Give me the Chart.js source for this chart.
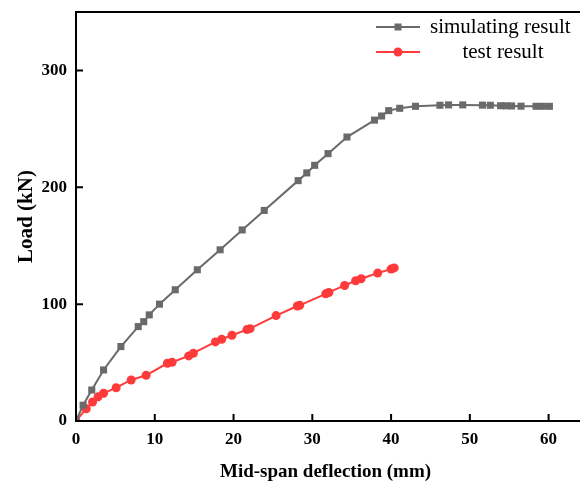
<!DOCTYPE html>
<html>
<head>
<meta charset="utf-8">
<script src="https://cdn.jsdelivr.net/npm/chart.js@4"></script>
<style>
  html, body { margin: 0; padding: 0; background: #fff; overflow: hidden; }
  #wrap { width: 580px; height: 483px; }
  canvas { display: block; }
</style>
</head>
<body>
<div id="wrap"><canvas id="chart" width="580" height="483"></canvas></div>
<script>
// simulating result (grey squares)
const simX = [0, 0.9, 2.0, 3.5, 5.7, 7.9, 8.6, 9.3, 10.6, 12.6, 15.4, 18.3, 21.1, 23.9, 28.2, 29.3, 30.3, 32.0, 34.4, 37.9, 38.8, 39.7, 41.1, 43.1, 46.2, 47.3, 49.1, 51.6, 52.6, 53.9, 54.6, 55.3, 56.5, 58.4, 59.2, 60.1];
const simY = [0, 13.5, 26.5, 43.7, 63.7, 80.8, 85, 90.8, 100, 112.3, 129.4, 146.5, 163.5, 180.2, 205.7, 212.3, 218.8, 228.8, 243, 257.5, 261, 265.6, 267.6, 269.3, 270.2, 270.5, 270.5, 270.3, 270.2, 269.8, 269.7, 269.6, 269.4, 269.3, 269.3, 269.3];

// test result (red circles)
const testX = [0, 1.3, 2.1, 2.8, 3.5, 5.1, 7.0, 8.9, 11.6, 12.2, 14.3, 14.9, 17.7, 18.5, 19.8, 21.7, 22.1, 25.4, 28.1, 28.4, 31.7, 32.1, 34.1, 35.5, 36.2, 38.3, 40.0, 40.4];
const testY = [0, 10.5, 16.3, 20.8, 23.7, 28.5, 35.1, 39.1, 49.4, 50.3, 55.7, 58, 67.7, 70, 73.4, 78.2, 79, 90.2, 98.4, 99, 108.8, 110, 116, 120, 121.7, 126.6, 130, 131];

const labels = ['simulating result', 'test result'];
const xTicks = [0, 10, 20, 30, 40, 50, 60];
const yTicks = [0, 100, 200, 300];

const grey = '#6a6a6a';
const red = '#ff3a3a';

function pts(xs, ys) {
    return xs.map((x, i) => ({ x: x, y: ys[i] }));
}

// inward ticks, top frame line; both axis lines run to the canvas edge
const frame = {
    id: 'frame',
    afterDraw(chart) {
        const ctx = chart.ctx;
        const a = chart.chartArea;
        const xs = chart.scales.x, ys = chart.scales.y;
        ctx.save();
        ctx.strokeStyle = '#000';
        ctx.lineWidth = 2;
        ctx.beginPath();
        ctx.moveTo(a.left, a.top);
        ctx.lineTo(chart.width, a.top);
        ctx.moveTo(a.right, a.bottom);
        ctx.lineTo(chart.width, a.bottom);
        for (const v of xTicks) {
            const px = xs.getPixelForValue(v);
            ctx.moveTo(px, a.bottom);
            ctx.lineTo(px, a.bottom - 7);
        }
        for (const v of yTicks) {
            const py = ys.getPixelForValue(v);
            ctx.moveTo(a.left, py);
            ctx.lineTo(a.left + 7, py);
        }
        ctx.stroke();
        ctx.restore();
    }
};

// legend inside the top right of the plot
const insideLegend = {
    id: 'insideLegend',
    afterDraw(chart) {
        const ctx = chart.ctx;
        ctx.save();
        ctx.font = '21px "Liberation Serif", serif';
        ctx.textBaseline = 'middle';
        const rows = [
            { y: 27, text: labels[0], textX: 430, align: 'left' },
            { y: 52, text: labels[1], textX: 503, align: 'center' }
        ];
        rows.forEach((r, i) => {
            const ds = chart.data.datasets[i];
            ctx.strokeStyle = ds.borderColor;
            ctx.lineWidth = 2;
            ctx.beginPath();
            ctx.moveTo(376, r.y);
            ctx.lineTo(420, r.y);
            ctx.stroke();
            ctx.fillStyle = ds.backgroundColor;
            ctx.beginPath();
            if (i === 0) {
                ctx.rect(394.5, r.y - 3.5, 7, 7);
            } else {
                ctx.arc(398, r.y, 4.5, 0, Math.PI * 2);
            }
            ctx.fill();
            ctx.fillStyle = '#000';
            ctx.textAlign = r.align;
            ctx.fillText(r.text, r.textX, r.y);
        });
        ctx.restore();
    }
};

const tickFont = { family: '"Liberation Serif", serif', size: 17, weight: 'bold' };

new Chart(document.getElementById('chart'), {
    type: 'scatter',
    data: {
        datasets: [{
            label: labels[0],
            data: pts(simX, simY),
            showLine: true,
            borderColor: grey,
            backgroundColor: grey,
            borderWidth: 2,
            pointStyle: 'rect',
            pointRadius: 5,
            pointBorderWidth: 0
        }, {
            label: labels[1],
            data: pts(testX, testY),
            showLine: true,
            borderColor: red,
            backgroundColor: red,
            borderWidth: 2,
            pointStyle: 'circle',
            pointRadius: 4.5,
            pointBorderWidth: 0
        }]
    },
    options: {
        responsive: false,
        animation: false,
        layout: { padding: { top: 12, right: 0, left: 0, bottom: 0 } },
        plugins: { legend: { display: false }, tooltip: { enabled: false } },
        scales: {
            x: {
                type: 'linear',
                min: 0,
                max: 63.35,
                afterFit(s) { s.height = 62; s.paddingLeft = 0; s.paddingRight = 0; },
                afterBuildTicks(s) { s.ticks = xTicks.map(v => ({ value: v })); },
                grid: { display: true, drawOnChartArea: false, drawTicks: false },
                border: { display: true, color: '#000', width: 2 },
                ticks: { color: '#000', font: tickFont, padding: 8, maxRotation: 0 },
                title: {
                    display: true, text: 'Mid-span deflection (mm)', color: '#000',
                    font: { family: '"Liberation Serif", serif', size: 19, weight: 'bold' },
                    padding: { top: 5, bottom: 0 }
                }
            },
            y: {
                type: 'linear',
                min: 0,
                max: 350,
                afterFit(s) { s.width = 76; s.paddingTop = 0; s.paddingBottom = 0; },
                afterBuildTicks(s) { s.ticks = yTicks.map(v => ({ value: v })); },
                grid: { display: true, drawOnChartArea: false, drawTicks: false },
                border: { display: true, color: '#000', width: 2 },
                ticks: { color: '#000', font: tickFont, padding: 9 },
                title: {
                    display: true, text: 'Load (kN)', color: '#000',
                    font: { family: '"Liberation Serif", serif', size: 21, weight: 'bold' },
                    padding: { top: 14, bottom: 0 }
                }
            }
        }
    },
    plugins: [frame, insideLegend]
});
</script>
</body>
</html>
